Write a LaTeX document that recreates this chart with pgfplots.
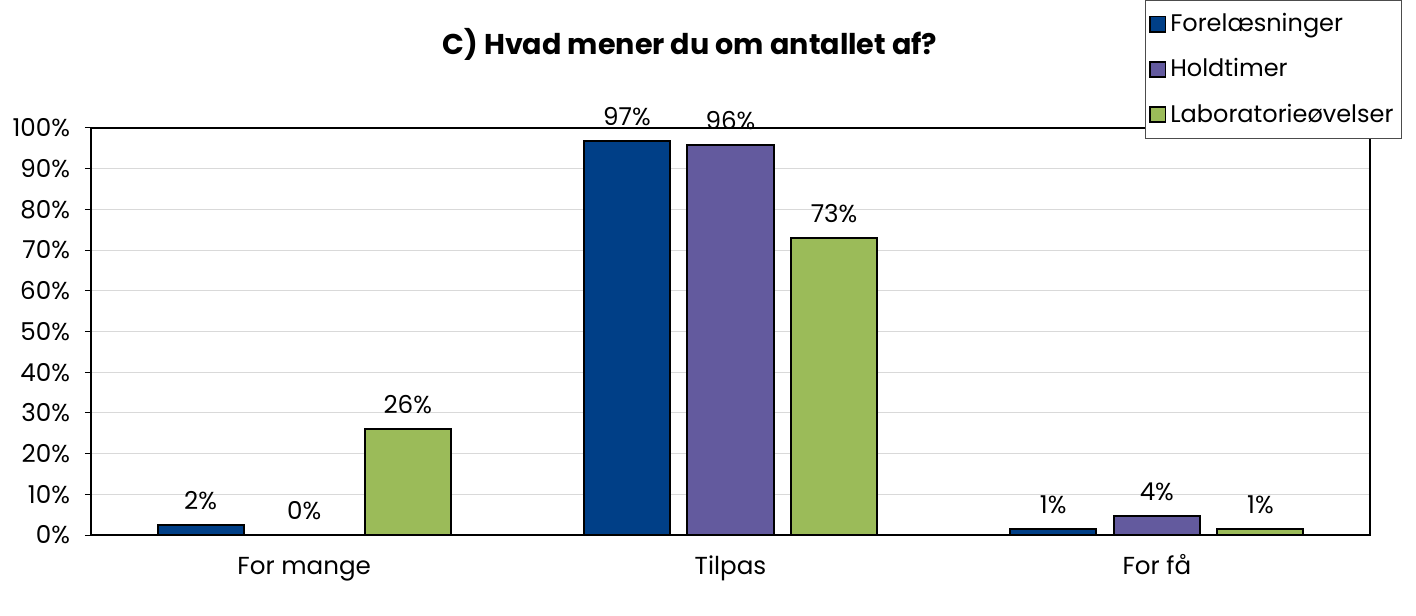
\documentclass[border=0pt]{standalone}
\usepackage{pgfplots}
\usepackage{pgfplotstable}
\usepackage{fontspec}
\setmainfont{Poppins}
\pgfplotsset{compat=1.18}
\definecolor{cBlue}{HTML}{003F87}
\definecolor{cPurple}{HTML}{635A9E}
\definecolor{cGreen}{HTML}{9BBB59}
\definecolor{cGrid}{HTML}{D9D9D9}
\pgfplotstableread{
x y lab
0 2.5 2
1 96.8 97
2 1.4 1
}\forel
\pgfplotstableread{
x y lab
0 0 0
1 95.8 96
2 4.6 4
}\hold
\pgfplotstableread{
x y lab
0 26.1 26
1 73 73
2 1.5 1
}\lab
\begin{document}
\begin{tikzpicture}
\useasboundingbox (-45.5bp,-40.5bp) rectangle (662.5bp,267.5bp);
\begin{axis}[
  at={(0,0)}, anchor=south west,
  scale only axis,
  width=639.5bp, height=203.5bp,
  ybar,
  xmin=-0.5, xmax=2.5,
  ymin=0, ymax=100,
  xtick={0,1,2},
  xticklabels={For mange,Tilpas,For få},
  ytick={0,10,...,100},
  ytick pos=left,
  yticklabel={\pgfmathprintnumber{\tick}\%},
  /pgf/number format/assume math mode=true,
  ymajorgrids,
  grid style={cGrid, line width=0.5bp},
  axis line style={black, line width=1bp},
  x tick style={draw=none},
  y tick style={black, line width=0.5bp},
  tick align=outside,
  major tick length=3bp,
  tick label style={font=\fontsize{12.3bp}{14bp}\selectfont},
  yticklabel style={xshift=-4bp},
  xticklabel style={yshift=-4bp, text height=9bp, text depth=3bp},
  bar width=0.202,
  every axis plot/.append style={draw=black, line width=1bp},
  nodes near coords={\pgfplotspointmeta\%},
  point meta=explicit symbolic,
  every node near coord/.append style={font=\fontsize{12.3bp}{14bp}\selectfont, black, yshift=4bp, text height=9bp, text depth=0bp},
  legend style={at={(1.025,1.3145)}, anchor=north east, draw=black!70, line width=0.5bp,
    font=\fontsize{12bp}{14bp}\selectfont, row sep=8bp, inner xsep=2bp, inner ysep=4.5bp},
  legend cell align=left,
  legend image code/.code={\draw[#1, line width=0.9bp] (1bp,-3.8bp) rectangle (8.6bp,3.8bp);},
  clip=false,
]
\addplot[fill=cBlue, bar shift=-0.243] table[x=x,y=y,meta=lab] {\forel};
\addplot[fill=cPurple, bar shift=0] table[x=x,y=y,meta=lab] {\hold};
\addplot[fill=cGreen, bar shift=0.243] table[x=x,y=y,meta=lab] {\lab};
\legend{Forelæsninger,Holdtimer,Laboratorieøvelser}
\end{axis}
\node[font=\fontsize{14.3bp}{16bp}\selectfont\bfseries] at (299.5bp,245.5bp) {C) Hvad mener du om antallet af?};
\end{tikzpicture}
\end{document}
